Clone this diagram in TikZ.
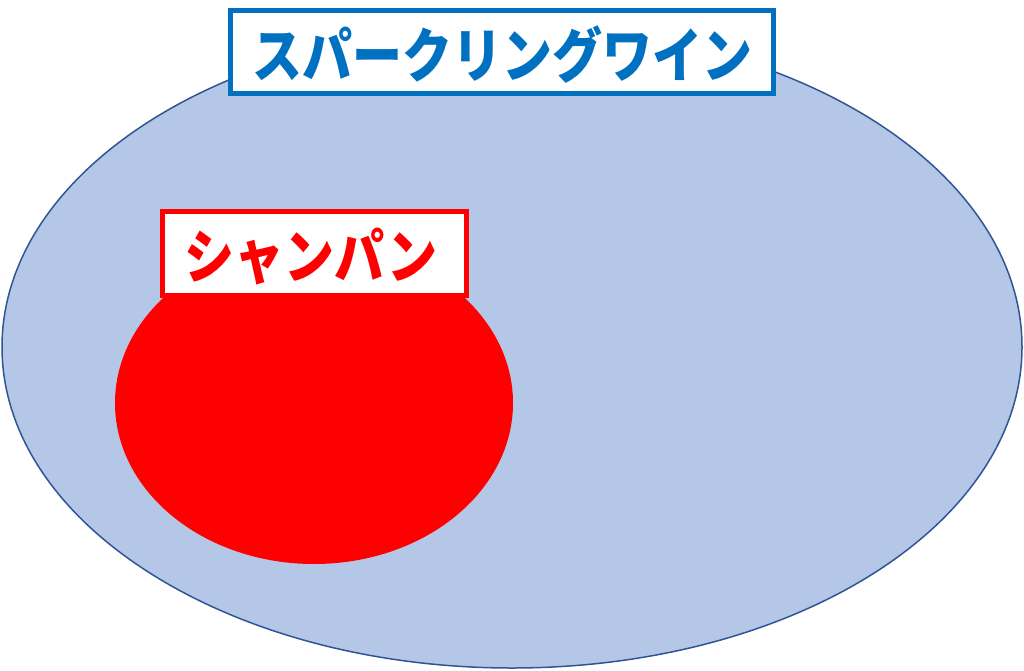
\documentclass[tikz,border=0pt]{standalone}
\usepackage{fontspec}
\newfontfamily\jpfont{Noto Sans CJK JP}
\usetikzlibrary{shapes.geometric}
\definecolor{wineblue}{HTML}{B4C7E7}
\definecolor{wineedge}{HTML}{2F5597}
\definecolor{titleblue}{HTML}{0070C0}
\definecolor{champred}{HTML}{FF0000}
\tikzset{
  labelbox/.style={draw, fill=white, line width=5pt, inner sep=0pt, rectangle},
  labeltext/.style={font=\jpfont\bfseries\fontsize{50pt}{50pt}\selectfont, inner sep=0pt, anchor=center, yscale=1.18, transform shape},
}
\begin{document}
\begin{tikzpicture}[x=1pt,y=-1pt]
\useasboundingbox (0,0) rectangle (1024,671);
% big ellipse
\node[ellipse, draw=wineedge, fill=wineblue, line width=1.5pt, minimum width=1020pt, minimum height=642pt, inner sep=0pt, outer sep=0pt] (sparkling) at (512,347) {};
% red ellipse
\node[ellipse, fill=champred, minimum width=398pt, minimum height=322pt, inner sep=0pt, outer sep=0pt] (champagne) at (314,403) {};
% red label box
\node[labelbox, draw=champred, minimum width=304pt, minimum height=84pt] (champbox) at (314,253.5) {};
\node[labeltext, text=champred] (champtext) at (311,257) {シャンパン};
% title box
\node[labelbox, draw=titleblue, minimum width=543pt, minimum height=83pt] (titlebox) at (502,52) {};
\node[labeltext, text=titleblue] (titletext) at (502,55) {スパークリングワイン};
\end{tikzpicture}
\end{document}
